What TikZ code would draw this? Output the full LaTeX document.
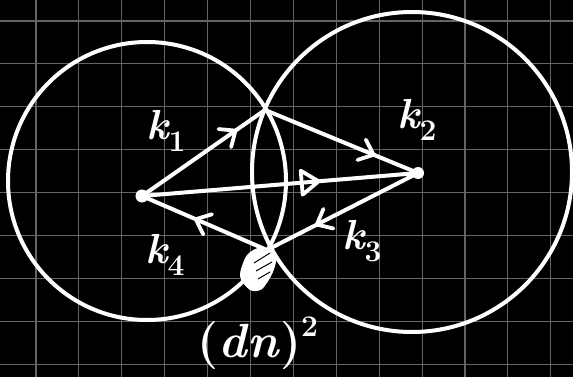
\documentclass[tikz,border=0pt]{standalone}
\usepackage{fontspec}
\usetikzlibrary{decorations.markings}
\definecolor{gridgray}{RGB}{100,100,100}
\newcommand{\chevmark}{\draw[white,line width=3.8pt,line cap=round,line join=round] (-13pt,11pt) -- (0pt,0pt) -- (-13pt,-11pt);}
\newcommand{\trimark}{\draw[white,line width=3.8pt,line cap=round,line join=round] (-17pt,12pt) -- (0pt,0pt) -- (-17pt,-12pt) -- cycle;}
\newcommand{\klab}[1]{\fontsize{42}{44}\selectfont\bfseries\itshape k\raisebox{-0.28em}{\fontsize{30}{32}\selectfont\upshape #1}}
\begin{document}
\begin{tikzpicture}[x=1pt,y=-1pt,
  chalk/.style={white,line width=4pt,line cap=round,line join=round},
  gridline/.style={draw=gridgray,line width=1.1pt},
  chevat/.style={postaction={decorate},decoration={markings,mark=at position #1 with {\chevmark}}},
  triat/.style={postaction={decorate},decoration={markings,mark=at position #1 with {\trimark}}},
  lab/.style={text=white,inner sep=0pt}]
\fill[black] (0,0) rectangle (573,377);
\useasboundingbox (0,0) rectangle (573,377);
% grid
\foreach \i in {0,...,12} \draw[gridline] ({36+42.9*\i},0) -- ({36+42.9*\i},377);
\foreach \j in {0,...,8} \draw[gridline] (0,{21+42.9*\j}) -- (573,{21+42.9*\j});
% circles
\draw[chalk] (147,181) circle[radius=139pt];
\draw[chalk] (412,172) circle[radius=160pt];
% points
\coordinate (P1) at (265,110);
\coordinate (P2) at (418,173);
\coordinate (P3) at (267,250);
\coordinate (P4) at (142,196);
% connectors
\draw[chalk,chevat=0.76] (P4) -- (P1);
\draw[chalk,chevat=0.71] (P1) -- (P2);
\draw[chalk,chevat=0.67] (P2) -- (P3);
\draw[chalk,chevat=0.57] (P3) -- (P4);
\draw[chalk,triat=0.64] (P4) -- (P2);
% dots
\fill[white] (P4) circle[radius=6.5pt];
\fill[white] (P2) circle[radius=6pt];
% scribble blob
\fill[white] plot[smooth cycle] coordinates {(247,255) (262,247) (276,255) (273,272) (262,289) (250,290) (240,276)};
\draw[black,line width=1pt] (254,263) -- (270,253);
\draw[black,line width=1pt] (256,271) -- (272,262);
\draw[black,line width=1pt] (258,279) -- (270,272);
% labels
\node[lab] (k1) at (166,131) {\klab{1}};
\node[lab] (k2) at (417,120) {\klab{2}};
\node[lab] (k3) at (362,241) {\klab{3}};
\node[lab] (k4) at (165,255) {\klab{4}};
\node[lab] (dn) at (258,343) {\fontsize{48}{50}\selectfont\bfseries (\textit{dn})\raisebox{0.45em}{\fontsize{30}{32}\selectfont 2}};
\end{tikzpicture}
\end{document}
